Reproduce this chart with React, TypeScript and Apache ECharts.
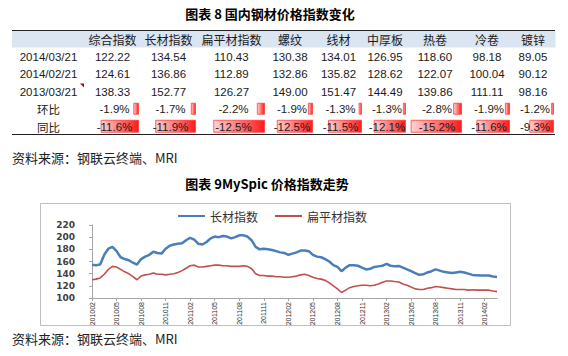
import React, { useEffect, useRef } from "react";
import * as echarts from "echarts";

// ---------- Table data ----------
const tableColumns = ["综合指数", "长材指数", "扁平材指数", "螺纹", "线材", "中厚板", "热卷", "冷卷", "镀锌"];
const rowLabels = ["2014/03/21", "2014/02/21", "2013/03/21", "环比", "同比"];
const idx20140321 = [122.22, 134.54, 110.43, 130.38, 134.01, 126.95, 118.6, 98.18, 89.05];
const idx20140221 = [124.61, 136.86, 112.89, 132.86, 135.82, 128.62, 122.07, 100.04, 90.12];
const idx20130321 = [138.33, 152.77, 126.27, 149.0, 151.47, 144.49, 139.86, 111.11, 98.16];
const momChange = [-1.9, -1.7, -2.2, -1.9, -1.3, -1.3, -2.8, -1.9, -1.2];
const yoyChange = [-11.6, -11.9, -12.5, -12.5, -11.5, -12.1, -15.2, -11.6, -9.3];

// ---------- Line chart data (semi-monthly, 2010-02 .. 2014-03) ----------
const yTicks = { min: 100, max: 220, step: 20 };
const longSteel = [
  154.5, 154, 155, 171, 181, 184, 177, 167, 164, 162,
  158, 155, 164, 168, 171, 176, 174, 173, 181, 186,
  188, 189, 190, 195, 199, 196, 189, 188, 192, 198,
  201, 200, 202, 201, 198, 200, 203, 203, 201, 195,
  184, 180, 181, 180, 179, 177, 175, 174, 171, 173,
  175, 178, 178, 177, 171, 168, 167, 164, 160, 154,
  151, 144, 150, 154, 154, 153, 150, 147, 148, 151,
  152, 153, 156, 153, 152, 152.77, 150, 147, 144, 141,
  138, 139, 142, 144, 147, 145, 143, 142, 141, 142,
  143, 142, 140, 138, 137.5, 137, 137, 136.86, 135.5, 134.54,
];
const flatSteel = [
  130, 131, 133, 139, 147, 152, 151, 147, 143, 140,
  135, 130, 136, 138, 139, 141, 139, 139, 138, 139,
  140, 142, 145, 149, 153, 154, 151, 151, 152, 153,
  154, 154, 153, 153, 152, 152, 152, 153, 152, 148,
  140, 137, 137, 136, 136, 135, 135, 134, 134, 135,
  136, 138, 139, 137, 134, 132, 131, 129, 125, 120,
  115, 109, 113, 117, 119, 120, 121, 121, 120, 121,
  123, 126, 128, 128, 127, 126.27, 123, 121, 118, 115,
  114, 114, 116, 117, 119, 118, 117, 116, 115, 114,
  114, 114, 113, 113.5, 113, 113, 113, 112.89, 111.5, 110.43,
];
const seriesNames = ["长材指数", "扁平材指数"];

function buildCategories(): string[] {
  const out: string[] = [];
  for (let y = 2010; y <= 2014; y++) {
    for (let m = 1; m <= 12; m++) {
      if (y === 2010 && m < 2) continue;
      if (y === 2014 && m > 3) break;
      const s = `${y}${String(m).padStart(2, "0")}`;
      out.push(s, s);
    }
  }
  return out;
}

// ---------- layout (not data) ----------
const colEdges = [0, 73, 128, 185, 254, 302, 351, 395, 451, 499, 543];
const CJK = '"Noto Sans CJK SC", sans-serif';
const LAT = '"Liberation Sans", "Noto Sans CJK SC", sans-serif';

type Cell = { col: number; row: number; text: string; kind: string; value?: number };

function buildCells(): Cell[] {
  const cells: Cell[] = [];
  cells.push({ col: 0, row: 0, text: "", kind: "header" });
  tableColumns.forEach((c, i) => cells.push({ col: i + 1, row: 0, text: c, kind: "header" }));
  rowLabels.forEach((lab, r) => cells.push({ col: 0, row: r + 1, text: lab, kind: r < 3 ? "date" : "label" }));
  [idx20140321, idx20140221, idx20130321].forEach((arr, r) =>
    arr.forEach((v, i) => cells.push({ col: i + 1, row: r + 1, text: v.toFixed(2), kind: "num" }))
  );
  [momChange, yoyChange].forEach((arr, k) =>
    arr.forEach((v, i) =>
      cells.push({ col: i + 1, row: 4 + k, text: v.toFixed(1) + "%", kind: "pct", value: v })
    )
  );
  return cells;
}

export default function App() {
  const ref = useRef<HTMLDivElement>(null);
  useEffect(() => {
    if (!ref.current) return;
    const chart = echarts.init(ref.current, null, { renderer: "svg" });
    const cells = buildCells();
    const maxAbs = Math.max(...momChange.map(Math.abs), ...yoyChange.map(Math.abs));
    const categories = buildCategories();

    const renderCell = (params: any, api: any) => {
      const cell = cells[params.dataIndex];
      const p0 = api.coord([colEdges[cell.col], cell.row]);
      const p1 = api.coord([colEdges[cell.col + 1], cell.row]);
      const h = api.size([0, 1])[1];
      const x0 = p0[0];
      const x1 = p1[0];
      const yc = p0[1];
      const top = yc - h / 2;
      const bottom = yc + h / 2;
      const children: any[] = [];
      if (cell.row === 0) {
        children.push({ type: "rect", shape: { x: x0, y: top, width: x1 - x0 + 0.5, height: h }, style: { fill: "#dbe5f1" } });
        children.push({ type: "line", shape: { x1: x0, y1: top + 0.5, x2: x1, y2: top + 0.5 }, style: { stroke: "#222", lineWidth: 1 } });
      }
      if (cell.row === 5) {
        children.push({ type: "line", shape: { x1: x0, y1: bottom - 0.5, x2: x1, y2: bottom - 0.5 }, style: { stroke: "#222", lineWidth: 1 } });
      }
      if (cell.kind === "pct" && cell.value !== undefined) {
        const frac = (0.9 * (Math.abs(cell.value) - 0.5)) / (maxAbs - 0.5);
        const w = frac * (x1 - x0);
        const bh = cell.row === 5 ? 12 : 11;
        children.push({
          type: "rect",
          shape: { x: x1 - 1.5 - w, y: yc - bh / 2, width: w, height: bh },
          style: {
            fill: new echarts.graphic.LinearGradient(0, 0, 1, 0, [
              { offset: 0, color: "#ffd4d4" },
              { offset: 1, color: "#ff1a1a" },
            ]),
            stroke: "#ff3b3b",
            lineWidth: 0.8,
          },
        });
      }
      let font = LAT;
      let size = 11.5;
      let dx = 0;
      if (cell.kind === "header") { font = CJK; size = 12; }
      if (cell.kind === "label") { font = CJK; size = 11.5; }
      if (cell.kind === "pct") { dx = 2; }
      if (cell.text) {
        children.push({
          type: "text",
          style: {
            text: cell.text,
            x: (x0 + x1) / 2 + dx,
            y: yc + 0.5,
            align: "center",
            verticalAlign: "middle",
            fontSize: size,
            fontFamily: font,
            fill: "#1a1a1a",
          },
        });
      }
      if (cell.col === 0 && cell.row === 3) {
        children.push({
          type: "polygon",
          shape: { points: [[x1 - 5, top + 1], [x1 - 1, top + 1], [x1 - 1, top + 5]] },
          style: { fill: "#c00000" },
        });
      }
      return { type: "group", children };
    };

    chart.setOption({
      animation: false,
      backgroundColor: "#ffffff",
      grid: [
        { left: 12, top: 30, width: 543, height: 105 },
        { left: 92, top: 225, width: 405, height: 73 },
      ],
      xAxis: [
        { gridIndex: 0, type: "value", min: 0, max: 543, show: false },
        {
          gridIndex: 1,
          type: "category",
          data: categories,
          boundaryGap: false,
          axisLine: { lineStyle: { color: "#a6a6a6", width: 1 } },
          axisTick: { show: true, interval: 5, length: 3, lineStyle: { color: "#a6a6a6" } },
          axisLabel: {
            interval: 5,
            rotate: 90,
            fontSize: 7,
            fontFamily: '"Liberation Sans Narrow", "Liberation Sans", sans-serif',
            color: "#333",
            margin: 4,
          },
          splitLine: { show: false },
        },
      ],
      yAxis: [
        {
          gridIndex: 0,
          type: "category",
          data: ["h", "r1", "r2", "r3", "mom", "yoy"],
          inverse: true,
          boundaryGap: true,
          show: false,
        },
        {
          gridIndex: 1,
          type: "value",
          min: yTicks.min,
          max: yTicks.max,
          interval: yTicks.step,
          axisLine: { show: true, lineStyle: { color: "#a6a6a6", width: 1 } },
          axisTick: { show: true, length: 3, lineStyle: { color: "#a6a6a6" } },
          axisLabel: {
            fontSize: 9,
            fontWeight: "bold",
            fontFamily: '"DejaVu Sans", sans-serif',
            color: "#404040",
            margin: 17,
          },
          splitLine: { show: false },
        },
      ],
      legend: {
        data: seriesNames,
        left: 173,
        top: 205,
        icon: "rect",
        itemWidth: 27,
        itemHeight: 2,
        itemGap: 17,
        textStyle: { fontSize: 12, fontFamily: CJK, color: "#333" },
      },
      series: [
        {
          type: "custom",
          xAxisIndex: 0,
          yAxisIndex: 0,
          data: cells.map((c) => [(colEdges[c.col] + colEdges[c.col + 1]) / 2, c.row]),
          renderItem: renderCell,
          clip: false,
          silent: true,
        },
        {
          name: seriesNames[0],
          type: "line",
          xAxisIndex: 1,
          yAxisIndex: 1,
          data: longSteel,
          symbol: "none",
          color: "#4a7ebb",
          lineStyle: { width: 2.5, color: "#4a7ebb" },
        },
        {
          name: seriesNames[1],
          type: "line",
          xAxisIndex: 1,
          yAxisIndex: 1,
          data: flatSteel,
          symbol: "none",
          color: "#c0504d",
          lineStyle: { width: 1.6, color: "#c0504d" },
        },
      ],
      graphic: [
        {
          type: "text",
          style: {
            text: "图表 8 国内钢材价格指数变化",
            x: 270,
            y: 13,
            align: "center",
            verticalAlign: "middle",
            fontSize: 13,
            fontWeight: "bold",
            fontFamily: CJK,
            fill: "#000",
          },
        },
        {
          type: "text",
          style: {
            text: "资料来源：钢联云终端、MRI",
            x: 12,
            y: 157,
            align: "left",
            verticalAlign: "middle",
            fontSize: 13,
            fontFamily: CJK,
            fill: "#222",
          },
        },
        {
          type: "text",
          style: {
            text: "图表 9MySpic 价格指数走势",
            x: 267,
            y: 183,
            align: "center",
            verticalAlign: "middle",
            fontSize: 13,
            fontWeight: "bold",
            fontFamily: CJK,
            fill: "#000",
          },
        },
        {
          type: "rect",
          shape: { x: 40.5, y: 203.5, width: 470, height: 122 },
          style: { fill: "none", stroke: "#bfbfbf", lineWidth: 1 },
          z: -1,
        },
        {
          type: "text",
          style: {
            text: "资料来源：钢联云终端、MRI",
            x: 12,
            y: 338,
            align: "left",
            verticalAlign: "middle",
            fontSize: 13,
            fontFamily: CJK,
            fill: "#222",
          },
        },
      ],
    });
    return () => chart.dispose();
  }, []);
  return <div ref={ref} style={{ position: "absolute", left: 0, top: 0, width: 568, height: 356 }} />;
}
